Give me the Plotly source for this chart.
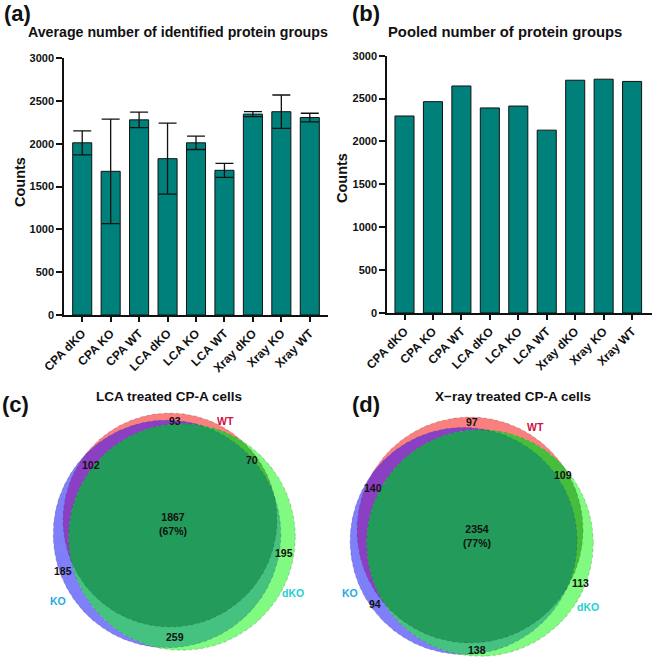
import numpy as np
import plotly.graph_objects as go

# ---------------- data ----------------
categories = ["CPA dKO", "CPA KO", "CPA WT", "LCA dKO", "LCA KO", "LCA WT",
              "Xray dKO", "Xray KO", "Xray WT"]
avg_counts = [2010, 1677, 2278, 1825, 2010, 1689, 2345, 2373, 2305]
avg_err = [140, 610, 90, 415, 78, 82, 30, 195, 50]
pooled_counts = [2297, 2464, 2647, 2391, 2413, 2132, 2714, 2726, 2700]
y_ticks = [0, 500, 1000, 1500, 2000, 2500, 3000]

venn_sets = ["WT", "KO", "dKO"]
region_members = [("WT",), ("KO",), ("dKO",), ("WT", "KO"), ("WT", "dKO"),
                  ("KO", "dKO"), ("WT", "KO", "dKO")]
lca_counts = [93, 185, 195, 102, 70, 259, 1867]
xray_counts = [97, 94, 113, 140, 109, 138, 2354]

# ---------------- style / layout ----------------
W, H = 654, 659
FONT = "Liberation Sans, Arial, sans-serif"
BAR_COLOR = "#00807A"
set_fill = {"WT": "#FA7F7F", "KO": "#7F7FFA", "dKO": "#80FA80"}
pair_fill = {("WT", "KO"): "#8B40C4", ("WT", "dKO"): "#46BE3C", ("KO", "dKO"): "#46C280"}
triple_fill = "#239B5A"
label_col = {"WT": "#CF1040", "KO": "#1FA9E1", "dKO": "#1ECFCF"}

# Venn geometry (page-pixel coordinates)
venn_layout = {
    "c": dict(r_wt=107.0, centers={"WT": (170, 520), "KO": (167, 534), "dKO": (182, 537)},
              num_pos=[(175, 421), (63, 571), (284, 553), (91, 465), (252, 460), (175, 637), (173, 524)],
              set_pos={"WT": (225, 421), "KO": (58, 601), "dKO": (293, 593)},
              title="LCA treated CP-A cells", title_pos=(169, 396), letter="(c)", letter_pos=(15, 404),
              xa="x3", ya="y3"),
    "d": dict(r_wt=113.0, centers={"WT": (470, 530), "KO": (463.6, 541), "dKO": (480, 543)},
              num_pos=[(472, 422), (375, 604), (580, 583), (373, 488), (563, 475), (477, 650), (477, 536)],
              set_pos={"WT": (535, 427), "KO": (350, 593), "dKO": (588, 607)},
              title="X\u2212ray treated CP-A cells", title_pos=(513, 396), letter="(d)", letter_pos=(366, 404),
              xa="x4", ya="y4"),
}


def px(x):
    return x / W


def py(y):
    return 1 - y / H


fig = go.Figure()

# ---------------- bar charts ----------------
fig.add_trace(go.Bar(
    x=categories, y=avg_counts, width=0.67, marker=dict(color=BAR_COLOR, line=dict(color="#111", width=1)),
    error_y=dict(type="data", array=avg_err, color="#111", thickness=1.3, width=9),
    xaxis="x", yaxis="y", showlegend=False))
fig.add_trace(go.Bar(
    x=categories, y=pooled_counts, width=0.67, marker=dict(color=BAR_COLOR, line=dict(color="#111", width=1)),
    xaxis="x2", yaxis="y2", showlegend=False))


# ---------------- venn diagrams ----------------
def circle_pts(c, r, n=1441):
    t = np.linspace(0, 2 * np.pi, n)
    return np.c_[c[0] + r * np.cos(t), c[1] + r * np.sin(t)]


def inside(p, c, r):
    return (p[:, 0] - c[0]) ** 2 + (p[:, 1] - c[1]) ** 2 <= r ** 2 + 1e-6


def intersection_poly(circles):
    pts = []
    for i, (c, r) in enumerate(circles):
        p = circle_pts(c, r)
        mask = np.ones(len(p), bool)
        for j, (c2, r2) in enumerate(circles):
            if i != j:
                mask &= inside(p, c2, r2)
        pts.append(p[mask])
    pts = np.vstack(pts)
    cen = pts.mean(axis=0)
    ang = np.arctan2(pts[:, 1] - cen[1], pts[:, 0] - cen[0])
    pts = pts[np.argsort(ang)]
    return np.vstack([pts, pts[:1]])


annotations = []


def ann(x, y, text, size, color="#111", xref="paper", yref="paper", angle=0):
    if xref == "paper":
        x, y = px(x), py(y)
    annotations.append(dict(x=x, y=y, xref=xref, yref=yref, text=text, showarrow=False,
                            xanchor="center", yanchor="middle", textangle=angle,
                            font=dict(size=size, color=color, family=FONT)))


def add_venn(counts, lay):
    totals = {s: sum(c for m, c in zip(region_members, counts) if s in m) for s in venn_sets}
    k = lay["r_wt"] / np.sqrt(totals["WT"])
    circ = {s: (lay["centers"][s], k * np.sqrt(totals[s])) for s in venn_sets}
    xa, ya = lay["xa"], lay["ya"]
    for s in venn_sets:
        p = circle_pts(*circ[s])
        fig.add_trace(go.Scatter(x=p[:, 0], y=p[:, 1], mode="lines", fill="toself", fillcolor=set_fill[s],
                                 line=dict(width=0), xaxis=xa, yaxis=ya, hoverinfo="skip", showlegend=False))
    for pair, col in pair_fill.items():
        p = intersection_poly([circ[pair[0]], circ[pair[1]]])
        fig.add_trace(go.Scatter(x=p[:, 0], y=p[:, 1], mode="lines", fill="toself", fillcolor=col,
                                 line=dict(width=0), xaxis=xa, yaxis=ya, hoverinfo="skip", showlegend=False))
    p = intersection_poly([circ[s] for s in venn_sets])
    fig.add_trace(go.Scatter(x=p[:, 0], y=p[:, 1], mode="lines", fill="toself", fillcolor=triple_fill,
                             line=dict(width=0), xaxis=xa, yaxis=ya, hoverinfo="skip", showlegend=False))
    for s in venn_sets:
        p = circle_pts(*circ[s])
        fig.add_trace(go.Scatter(x=p[:, 0], y=p[:, 1], mode="lines",
                                 line=dict(width=0.8, color="rgba(40,40,40,0.3)", dash="dot"),
                                 xaxis=xa, yaxis=ya, hoverinfo="skip", showlegend=False))
    union = sum(counts)
    for (m, c), (x, y) in zip(zip(region_members, counts), lay["num_pos"]):
        txt = f"<b>{c}</b>"
        if len(m) == 3:
            txt = f"<b>{c}<br>({round(100 * c / union)}%)</b>"
        ann(x, y, txt, 10.5, xref=xa, yref=ya)
    for s in venn_sets:
        x, y = lay["set_pos"][s]
        ann(x, y, f"<b>{s}</b>", 10.5, color=label_col[s], xref=xa, yref=ya)
    ann(*lay["title_pos"], f"<b>{lay['title']}</b>", 13.5)
    ann(*lay["letter_pos"], f"<b>{lay['letter']}</b>", 22)


add_venn(lca_counts, venn_layout["c"])
add_venn(xray_counts, venn_layout["d"])

# bar chart texts
ann(17, 14, "<b>(a)</b>", 22)
ann(366, 14, "<b>(b)</b>", 22)
ann(178, 32, "<b>Average number of identified protein groups</b>", 14.2)
ann(505, 32, "<b>Pooled number of protein groups</b>", 14.8)
ann(20, 182, "<b>Counts</b>", 14.5, angle=-90)
ann(342, 178, "<b>Counts</b>", 14.5, angle=-90)

xax = dict(showline=True, linecolor="#111", linewidth=1.5, ticks="outside", ticklen=5, tickwidth=1.5,
           tickcolor="#111", tickangle=-45, showgrid=False, zeroline=False, automargin=False,
           tickfont=dict(size=12, color="#111", family=FONT, weight="bold"),
           categoryorder="array", categoryarray=categories)
yax = dict(showline=True, linecolor="#111", linewidth=1.5, ticks="outside", ticklen=6, tickwidth=1.5,
           tickcolor="#111", showgrid=False, zeroline=False, range=[0, 3000], tickvals=y_ticks,
           automargin=False, tickfont=dict(size=11, color="#111", family=FONT, weight="bold"))
hidden = dict(visible=False, showgrid=False, zeroline=False, automargin=False)

fig.update_layout(
    template="simple_white",
    width=W, height=H, margin=dict(l=0, r=0, t=0, b=0, pad=0, autoexpand=False),
    paper_bgcolor="white", plot_bgcolor="rgba(0,0,0,0)", bargap=0.3,
    font=dict(family=FONT, color="#111"),
    xaxis=dict(xax, domain=[px(64), px(328)], range=[-0.64, 8.64], anchor="y"),
    yaxis=dict(yax, domain=[py(315), py(58)], anchor="x"),
    xaxis2=dict(xax, domain=[px(387), px(652)], range=[-0.615, 8.7], anchor="y2"),
    yaxis2=dict(yax, domain=[py(313), py(55.7)], anchor="x2"),
    xaxis3=dict(hidden, domain=[0, px(327)], range=[0, 327], anchor="y3"),
    yaxis3=dict(hidden, domain=[0, py(360)], range=[H, 360], anchor="x3"),
    xaxis4=dict(hidden, domain=[px(327), 1], range=[327, W], anchor="y4"),
    yaxis4=dict(hidden, domain=[0, py(360)], range=[H, 360], anchor="x4"),
    annotations=annotations,
)

fig.write_html("out.html", config={"displayModeBar": False},
               post_script="document.body.style.margin='0';document.body.style.padding='0';"
                           "document.body.style.overflow='hidden';")
